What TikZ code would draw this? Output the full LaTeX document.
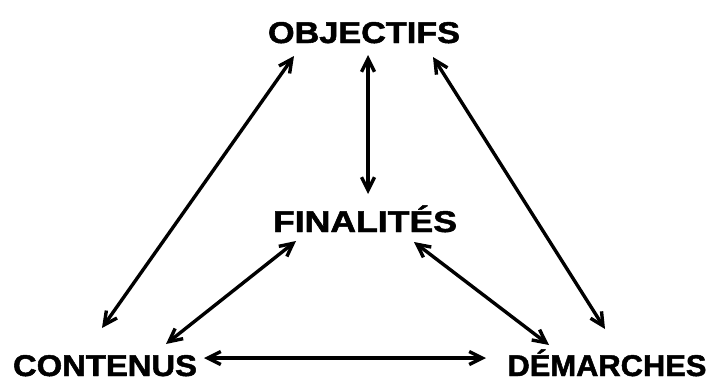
\documentclass[tikz,border=0pt]{standalone}
\usepackage{fontspec}
\newfontfamily\heavy{Liberation Sans}[BoldFeatures={FakeBold=1.6}]
\usetikzlibrary{arrows.meta}
% stretch a capital-letter label to a given width, keeping its natural height
% and giving it no depth below the baseline
\newcommand\fitlabel[2]{\raisebox{0pt}[\height][0pt]{\resizebox{#1}{\height}{#2}}}
\begin{document}
\begin{tikzpicture}[x=1pt,y=-1pt,
  term/.style={inner sep=0pt, anchor=base, font=\heavy\bfseries\fontsize{30}{32}\selectfont},
  link/.style={line width=3.4pt, {Straight Barb[length=13pt,width=13pt]}-{Straight Barb[length=13pt,width=13pt]}}]
  \useasboundingbox (0,0) rectangle (710,383);
  \node[term] (obj) at (364,43)  {\fitlabel{192pt}{OBJECTIFS}};
  \node[term] (fin) at (365,232) {\fitlabel{184pt}{FINALITÉS}};
  \node[term] (con) at (105,376) {\fitlabel{184pt}{CONTENUS}};
  \node[term] (dem) at (607,376) {\fitlabel{199pt}{DÉMARCHES}};
  \coordinate (co1) at (102,328); \coordinate (co2) at (294,56);
  \coordinate (of1) at (368,55);  \coordinate (of2) at (368,194);
  \coordinate (od1) at (433,57);  \coordinate (od2) at (605,329);
  \coordinate (fc1) at (296,241); \coordinate (fc2) at (166,344);
  \coordinate (fd1) at (414,242); \coordinate (fd2) at (549,345);
  \coordinate (cd1) at (204,358); \coordinate (cd2) at (486,358);
  \draw[link] (co1) -- (co2);
  \draw[link] (of1) -- (of2);
  \draw[link] (od1) -- (od2);
  \draw[link] (fc1) -- (fc2);
  \draw[link] (fd1) -- (fd2);
  \draw[link] (cd1) -- (cd2);
\end{tikzpicture}
\end{document}
